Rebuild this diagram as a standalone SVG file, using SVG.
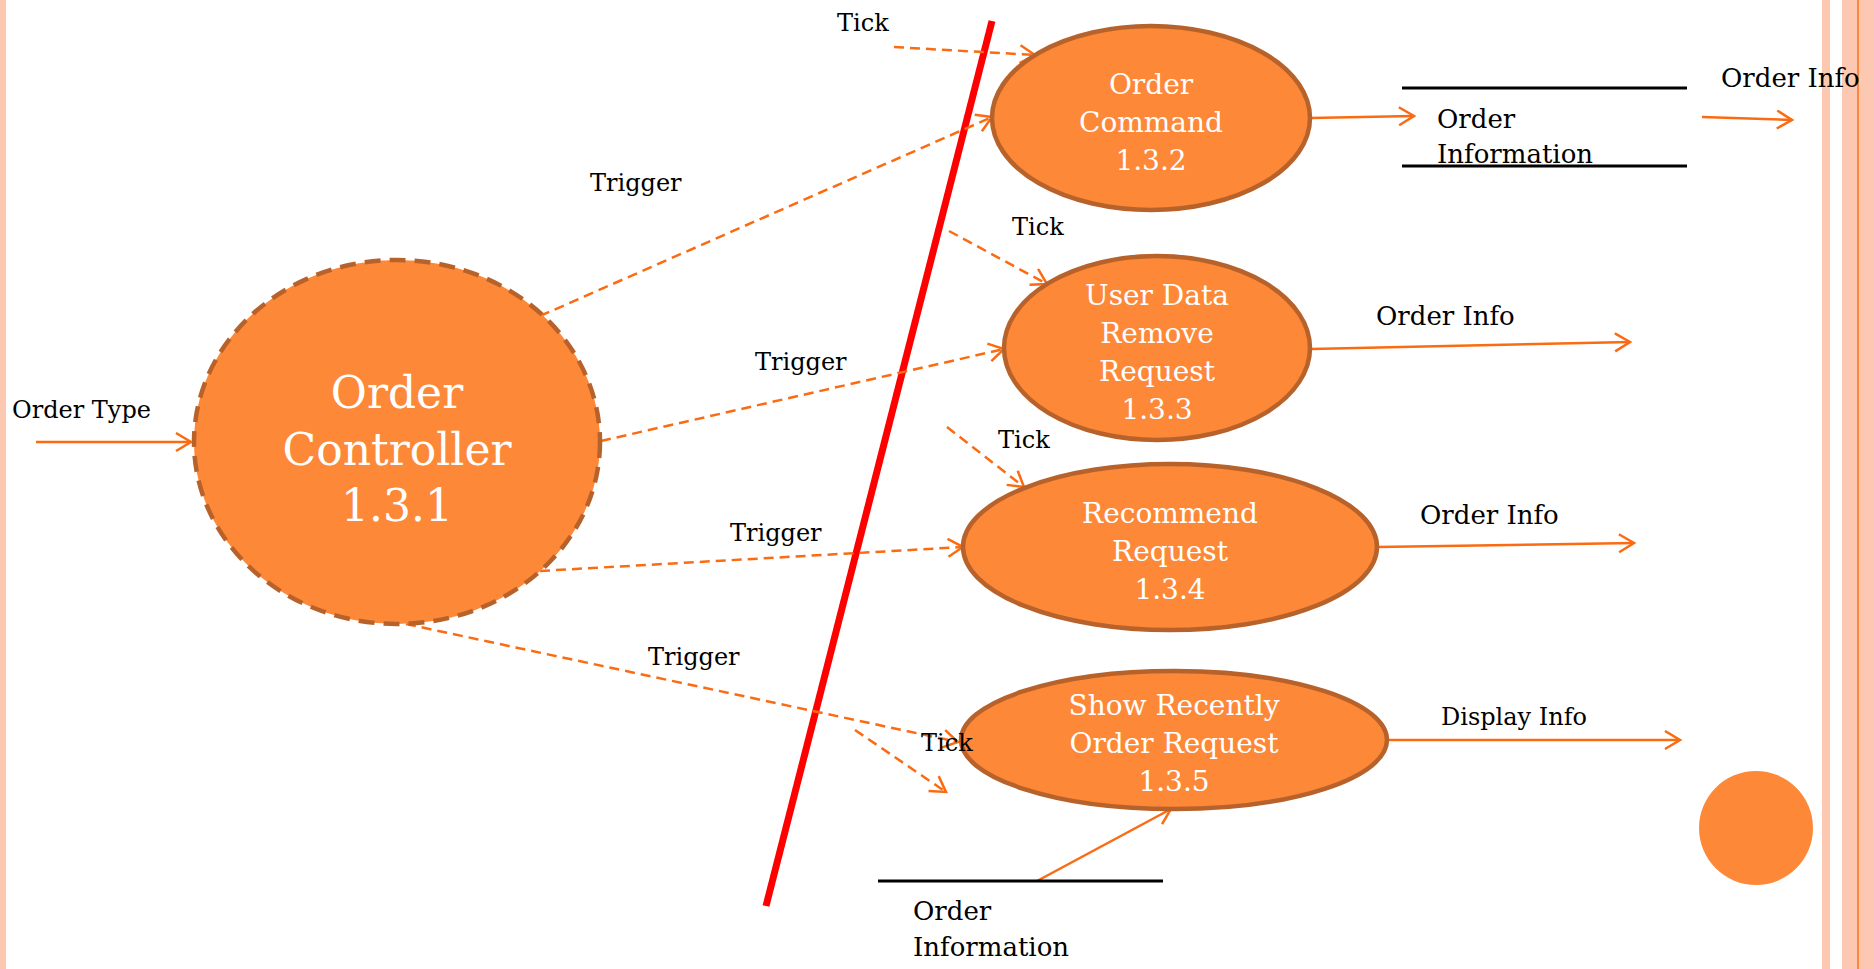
<svg xmlns="http://www.w3.org/2000/svg" width="1874" height="969" viewBox="0 0 1874 969">
<style>
.bg{fill:#ffffff}
.stripe{fill:#FCC8B2}
.node{fill:#FD8838;stroke:#B8622B;stroke-width:4.5}
.nt{font-family:"DejaVu Serif","Liberation Serif",serif;fill:#ffffff;text-anchor:middle;font-size:28px}
.lbl{font-family:"DejaVu Serif","Liberation Serif",serif;fill:#000000;font-size:24px}
.lbl2{font-family:"DejaVu Serif","Liberation Serif",serif;fill:#000000;font-size:26px}
.flow{fill:none;stroke:#FA6B12;stroke-width:2.5;marker-end:url(#arr)}
.dash{fill:none;stroke:#FA6B12;stroke-width:2.5;stroke-dasharray:10 6;marker-end:url(#arr)}
.store{stroke:#000000;stroke-width:3}
</style>
<defs>
<marker id="arr" markerUnits="userSpaceOnUse" markerWidth="20" markerHeight="22" refX="16" refY="10" orient="auto">
<path d="M1,1 L16,10 L1,19" fill="none" stroke="#FA6B12" stroke-width="2.5"/>
</marker>
</defs>
<rect class="bg" x="0" y="0" width="1874" height="969"/>
<rect class="stripe" x="0" y="0" width="6" height="969"/>
<rect class="stripe" x="1822" y="0" width="8" height="969"/>
<rect class="stripe" x="1842" y="0" width="32" height="969"/>
<rect x="1857" y="0" width="2" height="969" fill="#FD8838"/>

<line x1="992" y1="21" x2="766" y2="906" stroke="#FF0000" stroke-width="7"/>

<g id="connectors">
<path class="flow" d="M36,442 L191,442"/>
<path class="dash" d="M540,316 L992,117"/>
<path class="dash" d="M601,441 L1004,349"/>
<path class="dash" d="M540,571 L963,547"/>
<path class="dash" d="M406,624 L958,742"/>
<path class="dash" d="M894,47 L1035,55"/>
<path class="dash" d="M949,231 L1047,284"/>
<path class="dash" d="M947,427 L1024,487"/>
<path class="dash" d="M855,730 L946,792"/>
<path class="flow" d="M1310,118 L1414,116"/>
<path class="flow" d="M1702,117 L1792,120"/>
<path class="flow" d="M1311,349 L1630,342"/>
<path class="flow" d="M1377,547 L1634,543"/>
<path class="flow" d="M1386,740 L1680,740"/>
<path class="flow" d="M1037,881 L1171,809"/>
</g>

<g id="n131">
<ellipse cx="397" cy="442" rx="203" ry="182" fill="#FD8838" stroke="#B8622B" stroke-width="4.5" stroke-dasharray="16 9"/>
<text class="nt" style="font-size:44px" x="397" y="408">Order</text>
<text class="nt" style="font-size:44px" x="397" y="465">Controller</text>
<text class="nt" style="font-size:44px" x="397" y="521">1.3.1</text>
</g>

<g id="n132">
<ellipse class="node" cx="1151" cy="118" rx="159" ry="92"/>
<text class="nt" x="1151" y="94">Order</text>
<text class="nt" x="1151" y="132">Command</text>
<text class="nt" x="1151" y="170">1.3.2</text>
</g>

<g id="n133">
<ellipse class="node" cx="1157" cy="348" rx="153" ry="92"/>
<text class="nt" x="1157" y="305">User Data</text>
<text class="nt" x="1157" y="343">Remove</text>
<text class="nt" x="1157" y="381">Request</text>
<text class="nt" x="1157" y="419">1.3.3</text>
</g>

<g id="n134">
<ellipse class="node" cx="1170" cy="547" rx="207" ry="83"/>
<text class="nt" x="1170" y="523">Recommend</text>
<text class="nt" x="1170" y="561">Request</text>
<text class="nt" x="1170" y="599">1.3.4</text>
</g>

<g id="n135">
<ellipse class="node" cx="1174" cy="740" rx="213" ry="69"/>
<text class="nt" x="1174" y="715">Show Recently</text>
<text class="nt" x="1174" y="753">Order Request</text>
<text class="nt" x="1174" y="791">1.3.5</text>
</g>

<g id="store1">
<line class="store" x1="1402" y1="88" x2="1687" y2="88"/>
<line class="store" x1="1402" y1="166" x2="1687" y2="166"/>
<text class="lbl2" x="1437" y="128">Order</text>
<text class="lbl2" x="1437" y="163">Information</text>
</g>

<g id="store2">
<line class="store" x1="878" y1="881" x2="1163" y2="881"/>
<text class="lbl2" x="913" y="920">Order</text>
<text class="lbl2" x="913" y="956">Information</text>
</g>

<g id="dot">
<circle cx="1756" cy="828" r="57" fill="#FD8838"/>
</g>

<g id="labels">
<text class="lbl" x="590" y="191">Trigger</text>
<text class="lbl" x="755" y="370">Trigger</text>
<text class="lbl" x="730" y="541">Trigger</text>
<text class="lbl" x="648" y="665">Trigger</text>
<text class="lbl" x="837" y="31">Tick</text>
<text class="lbl" x="1012" y="235">Tick</text>
<text class="lbl" x="998" y="448">Tick</text>
<text class="lbl" x="921" y="751">Tick</text>
<text class="lbl" x="12" y="418">Order Type</text>
<text class="lbl2" x="1721" y="87">Order Info</text>
<text class="lbl2" x="1376" y="325">Order Info</text>
<text class="lbl2" x="1420" y="524">Order Info</text>
<text class="lbl" x="1441" y="725">Display Info</text>
</g>
</svg>
